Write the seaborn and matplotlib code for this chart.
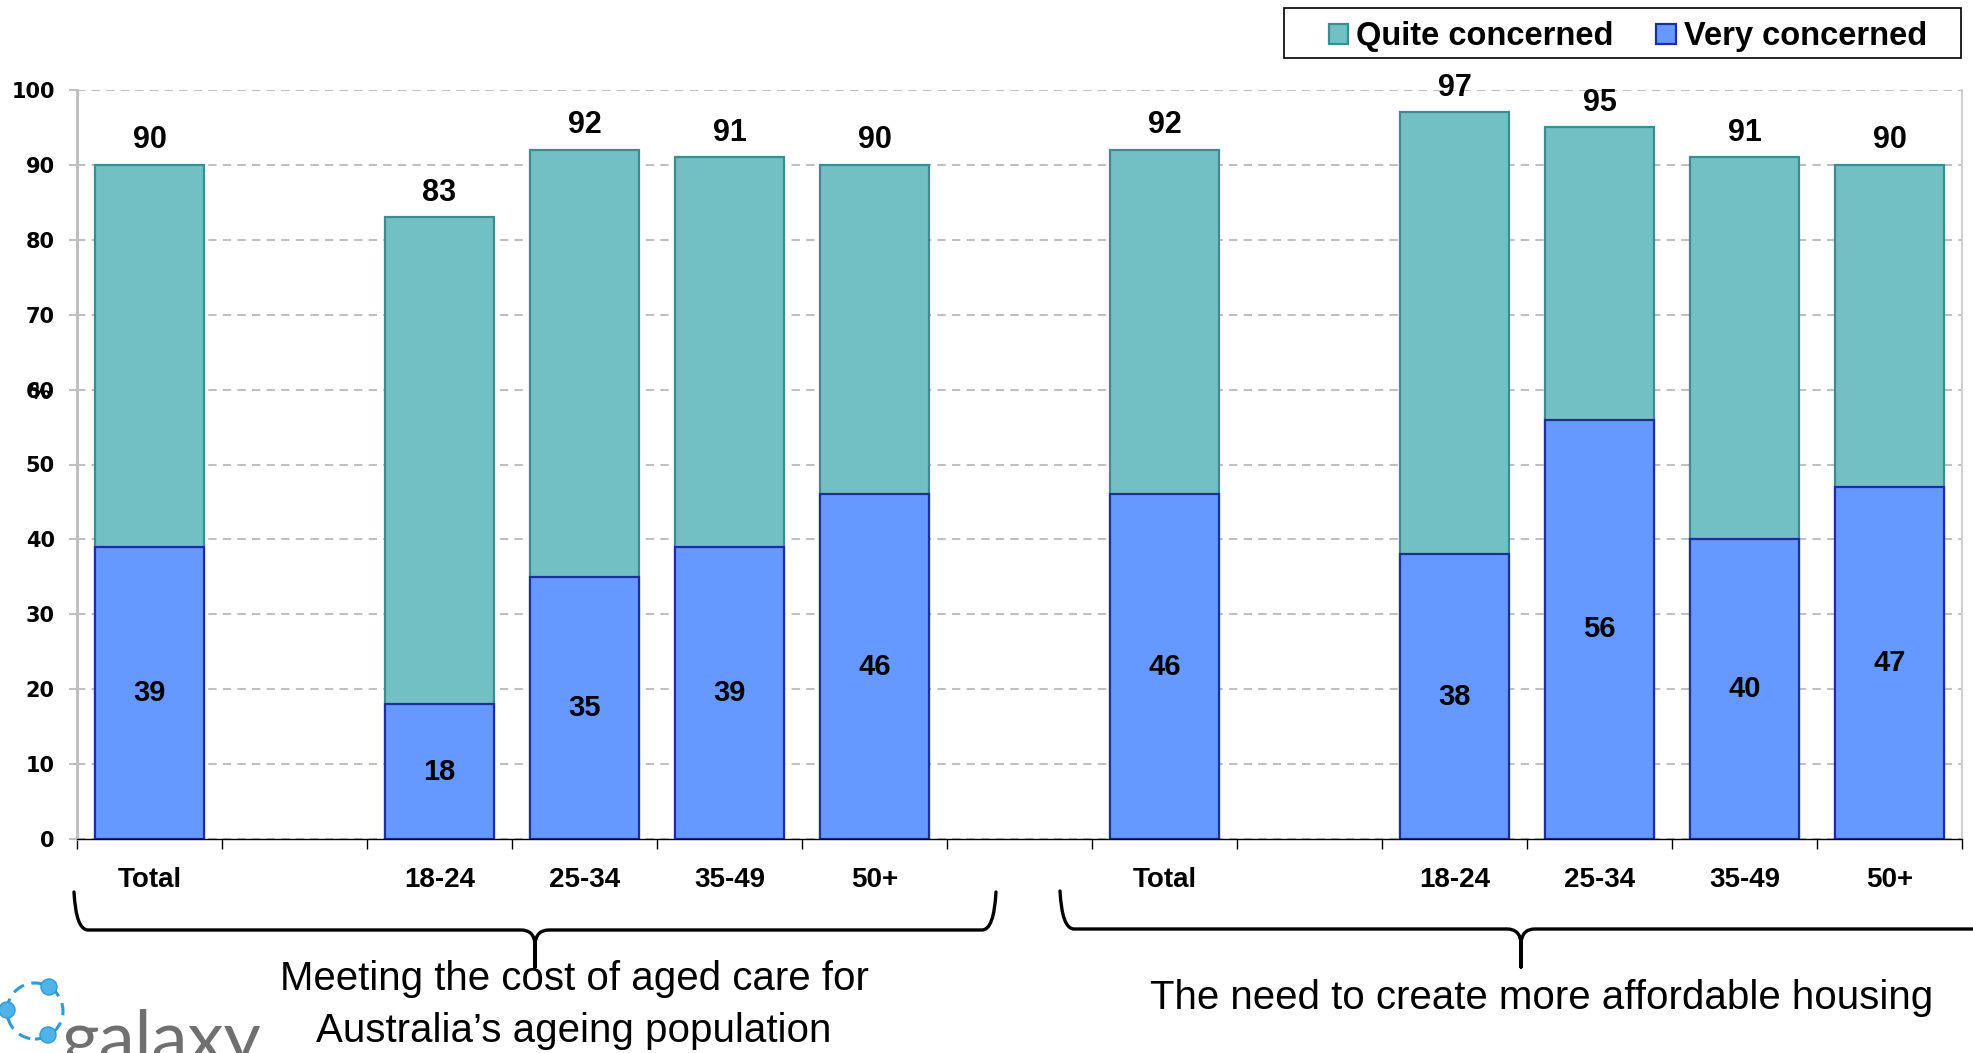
import matplotlib
matplotlib.use("Agg")
import matplotlib.pyplot as plt
import seaborn as sns
import pandas as pd
import numpy as np
from matplotlib.path import Path
from matplotlib.patches import PathPatch, Circle, Rectangle
from matplotlib.transforms import IdentityTransform

sns.set_theme(style="white")
plt.rcParams['font.family'] = ['Liberation Sans', 'DejaVu Sans']
plt.rcParams['text.color'] = 'black'

# Data
ages = ["Total", "18-24", "25-34", "35-49", "50+"]
aged_care_very = [39, 18, 35, 39, 46]
aged_care_total = [90, 83, 92, 91, 90]
housing_very = [46, 38, 56, 40, 47]
housing_total = [92, 97, 95, 91, 90]
group_titles = ["Meeting the cost of aged care for\nAustralia\u2019s ageing population",
                "The need to create more affordable housing"]
legend_labels = ["Quite concerned", "Very concerned"]

rows = []
for g, very, tot in (("A", aged_care_very, aged_care_total), ("B", housing_very, housing_total)):
    for age, v, t in zip(ages, very, tot):
        rows.append({"slot": f"{g}|{age}", "very": v, "total": t})
df = pd.DataFrame(rows)

# slot order with empty gaps like the original
order = ["A|Total", "A|gap", "A|18-24", "A|25-34", "A|35-49", "A|50+", "gap",
         "B|Total", "B|gap", "B|18-24", "B|25-34", "B|35-49", "B|50+"]
tick_labels = [s.split("|")[1] if "gap" not in s else "" for s in order]

W, H = 1974, 1053
fig = plt.figure(figsize=(W / 100, H / 100), dpi=100)
ax = fig.add_axes([77 / W, 214 / H, (1962 - 77) / W, (963 - 214) / H])

teal, teal_edge = "#72BFC4", "#3E8C92"
blue, blue_edge = "#6699FF", "#1F2E9E"

sns.barplot(data=df, x="slot", y="total", order=order, color=teal, edgecolor=teal_edge,
            linewidth=1.6, width=0.75, saturation=1, errorbar=None, ax=ax,
            label=legend_labels[0])
cont_total = ax.containers[-1]
sns.barplot(data=df, x="slot", y="very", order=order, color=blue, edgecolor=blue_edge,
            linewidth=1.6, width=0.75, saturation=1, errorbar=None, ax=ax,
            label=legend_labels[1])
cont_very = ax.containers[-1]

ax.bar_label(cont_total, padding=7, fontsize=22, fontweight="bold", color="black")
ax.bar_label(cont_very, label_type="center", fontsize=21, fontweight="bold", color="black")

ax.set_ylim(0, 100)
ax.set_xlim(-0.5, len(order) - 0.5)
ax.set_yticks(range(0, 101, 10))
ax.yaxis.grid(True, linestyle=(0, (4, 3)), color="#C0C0C0", linewidth=1.5)
ax.xaxis.grid(False)
ax.set_axisbelow(True)
ax.set_xlabel("")
ax.set_ylabel("")

ax.set_xticks(range(len(order)))
ax.set_xticklabels(tick_labels, fontsize=20, fontweight="bold")
ax.set_xticks(np.arange(-0.5, len(order), 1), minor=True)
ax.tick_params(axis="x", which="major", length=0, pad=20, labelcolor="black")
ax.tick_params(axis="x", which="minor", length=7, width=1, color="black", bottom=True)
ax.tick_params(axis="y", length=6, width=1.5, color="#C0C0C0", pad=10, left=True,
               labelcolor="black")
for lab in ax.get_yticklabels():
    lab.set_fontfamily("DejaVu Sans")
    lab.set_fontweight("bold")
    lab.set_fontsize(15)

ax.spines["top"].set_visible(False)
ax.spines["right"].set_color("#D0D0D0")
ax.spines["right"].set_linewidth(1.5)
ax.spines["left"].set_color("#C0C0C0")
ax.spines["left"].set_linewidth(2.2)
ax.spines["bottom"].set_color("black")
ax.spines["bottom"].set_linewidth(1)

fig.text(40 / W, 1 - 393 / H, "%", ha="center", va="center", fontsize=15,
         fontweight="bold", family="DejaVu Sans")

# legend: entries centred in a plain box at the top right
handles, labels = ax.get_legend_handles_labels()
if ax.get_legend():
    ax.get_legend().remove()
leg = fig.legend(handles, labels, loc="center", bbox_to_anchor=(1628 / W, 1 - 37 / H),
                 ncol=2, frameon=False, prop={"weight": "bold", "size": 23.5},
                 handlelength=0.6, handleheight=0.6, handletextpad=0.25,
                 columnspacing=1.3, borderpad=0, borderaxespad=0)
fig.patches.append(Rectangle((1284, H - 58), 1961 - 1284, 50, fill=False,
                             edgecolor="black", lw=1.2, transform=IdentityTransform()))


# braces drawn in pixel coordinates (y from top)
def brace(x0, x1, xc, ytop, ybot, ytip):
    def p(x, y):
        return (x, H - y)
    verts = [p(x0, ytop), p(x0 + 2, ybot), p(x0 + 14, ybot),
             p(xc - 14, ybot),
             p(xc - 1, ybot), p(xc, ybot + 14),
             p(xc, ytip),
             p(xc, ybot + 14),
             p(xc + 1, ybot), p(xc + 14, ybot),
             p(x1 - 14, ybot),
             p(x1 - 2, ybot), p(x1, ytop)]
    codes = [Path.MOVETO, Path.CURVE3, Path.CURVE3, Path.LINETO, Path.CURVE3, Path.CURVE3,
             Path.LINETO, Path.LINETO, Path.CURVE3, Path.CURVE3, Path.LINETO,
             Path.CURVE3, Path.CURVE3]
    patch = PathPatch(Path(verts, codes), fill=False, lw=2.4, edgecolor="black",
                      transform=IdentityTransform(), capstyle="round", joinstyle="round")
    fig.patches.append(patch)


brace(74, 996, 535, 892, 930, 967)
brace(1060, 2000, 1521, 891, 929, 967)

fig.text(574 / W, 1 - 1005 / H, group_titles[0], ha="center", va="center", fontsize=29,
         linespacing=1.45)
fig.text(1542 / W, 1 - 998 / H, group_titles[1], ha="center", va="center", fontsize=29)

# galaxy logo (partly cut off at the bottom)
ring = Circle((35, H - 1011), 28, fill=False, edgecolor="#2E9AD6", lw=2.2,
              linestyle=(0, (4, 2.5)), transform=IdentityTransform())
fig.patches.append(ring)
for cx, cy in ((7, 1010), (49, 987), (48, 1035)):
    fig.patches.append(Circle((cx, H - cy), 8, facecolor="#4FB3E8", edgecolor="#2E9AD6",
                              lw=1, transform=IdentityTransform()))
fig.text(62 / W, 1 - 1062 / H, "galaxy", ha="left", va="baseline", fontsize=52,
         color="#707070", family=["Lato", "DejaVu Sans"])

fig.savefig("out.png", dpi=100)
